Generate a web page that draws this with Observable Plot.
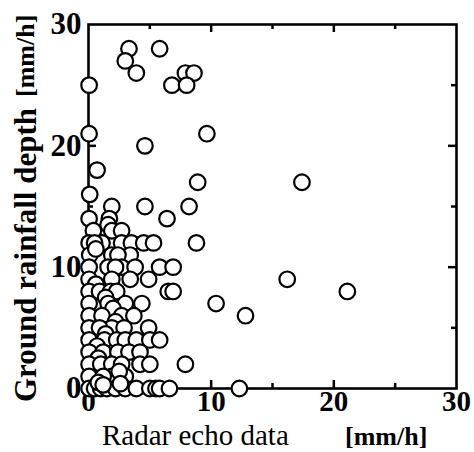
<!DOCTYPE html>
<html>
<head>
<meta charset="utf-8">
<script src="https://cdn.jsdelivr.net/npm/d3@7"></script>
<script src="https://cdn.jsdelivr.net/npm/@observablehq/plot@0.6"></script>
<style>
  html, body { margin: 0; padding: 0; background: #fff; }
  #chart { width: 474px; height: 452px; }
</style>
</head>
<body>
<div id="chart"></div>
<script>
// Radar echo data [mm/h] (x) vs ground rainfall depth [mm/h] (y)
const radarEcho = [
  3.3, 5.8, 3.0, 3.9, 0.05, 6.8, 7.9, 8.6, 8.0,
  0.05, 9.65, 4.6, 0.7, 8.9, 17.4, 0.1,
  1.9, 4.6, 8.2, 6.4, 0.05, 1.7, 1.6,
  0.4, 1.9, 2.7,
  0.05, 1.1, 2.7, 3.5, 4.5, 5.3, 8.8, 0.5,
  0.1, 1.9, 3.4, 0.6, 2.4,
  0.05, 1.6, 2.7, 3.8, 5.8, 6.9, 2.2,
  0.05, 1.9, 4.9, 16.2, 0.6, 3.4,
  0.05, 0.9, 1.8, 2.3, 6.5, 6.9, 21.1, 1.4,
  0.05, 3.0, 4.35, 10.4, 1.6, 2.0,
  0.05, 1.1, 2.7, 3.7, 12.8, 2.2,
  0.05, 1.9, 2.9, 4.9, 0.9, 1.4,
  0.05, 1.3, 2.3, 3.0, 3.9, 5.0, 5.8, 0.7,
  0.05, 1.2, 2.4, 3.3, 4.2, 0.8,
  0.05, 1.0, 1.9, 4.2, 5.0, 7.9, 2.7,
  0.05, 1.9, 3.0, 1.2, 2.5,
  0.05, 0.5, 1.0, 1.5, 2.2, 3.0, 3.9, 5.0, 5.5, 5.8, 6.6, 12.3, 0.8, 1.2, 2.6
];
const groundRain = [
  28, 28, 27, 26, 25, 25, 26, 26, 25,
  21, 21, 20, 18, 17, 17, 16,
  15, 15, 15, 14, 14, 14, 13.5,
  13, 13, 13,
  12, 12, 12, 12, 12, 12, 12, 12,
  11, 11, 11, 11.5, 11,
  10, 10, 10, 10, 10, 10, 10,
  9, 9, 9, 9, 8.6, 9,
  8, 8, 8, 8, 8, 8, 8, 7.5,
  7, 7, 7, 7, 7, 6.6,
  6, 6, 6, 6, 6, 5.5,
  5, 5, 5, 5, 5, 4.5,
  4, 4, 4, 4, 4, 4, 4, 3.5,
  3, 3, 3, 3, 3, 2.5,
  2, 2, 2, 2, 2, 2, 2,
  1, 1, 1, 1, 1.4,
  0, 0, 0, 0, 0, 0, 0, 0, 0, 0, 0, 0, 0.5, 0.3, 0.4
];
const majorTicks = [0, 10, 20, 30];
const innerMajor = [10, 20];
const innerMinor = [5, 15, 25];

const points = radarEcho.map((x, i) => ({x, y: groundRain[i]}));

const W = 474, H = 452, ML = 88, MR = 18, MT = 24, MB = 64;
const PW = W - ML - MR, PH = H - MT - MB;
const majorLen = 8, minorLen = 5;

const serif = "'Liberation Serif', 'Times New Roman', serif";
const tickFontX = {fontSize: 29, fontWeight: "bold", fontFamily: serif, fill: "#000"};
const tickFontY = {fontSize: 31, fontWeight: "bold", fontFamily: serif, fill: "#000"};
const tickStyle = {stroke: "#000", strokeWidth: 2.5};

const chart = Plot.plot({
  width: W,
  height: H,
  marginLeft: ML,
  marginRight: MR,
  marginTop: MT,
  marginBottom: MB,
  x: {domain: [0, 30]},
  y: {domain: [0, 30]},
  style: {background: "#fff", color: "#000"},
  marks: [
    Plot.axisX({anchor: "bottom", ticks: majorTicks, tickSize: 0, tickPadding: 2, label: null, ...tickFontX}),
    Plot.axisY({anchor: "left", ticks: majorTicks, tickSize: 0, tickPadding: 7, label: null, ...tickFontY}),
    // inward ticks, bottom & top
    Plot.ruleX(innerMajor, {x: d => d, insetTop: PH - majorLen, ...tickStyle}),
    Plot.ruleX(innerMinor, {x: d => d, insetTop: PH - minorLen, ...tickStyle}),
    Plot.ruleX(innerMajor, {x: d => d, insetBottom: PH - majorLen, ...tickStyle}),
    Plot.ruleX(innerMinor, {x: d => d, insetBottom: PH - minorLen, ...tickStyle}),
    // inward ticks, left & right
    Plot.ruleY(innerMajor, {y: d => d, insetRight: PW - majorLen, ...tickStyle}),
    Plot.ruleY(innerMinor, {y: d => d, insetRight: PW - minorLen, ...tickStyle}),
    Plot.ruleY(innerMajor, {y: d => d, insetLeft: PW - majorLen, ...tickStyle}),
    Plot.ruleY(innerMinor, {y: d => d, insetLeft: PW - minorLen, ...tickStyle}),
    Plot.frame({stroke: "#000", strokeWidth: 2.6}),
    Plot.dot(points, {x: "x", y: "y", r: 7.8, fill: "#fff", stroke: "#000", strokeWidth: 2.2, clip: false})
  ]
});

const svg = d3.select(chart);
// x-axis title
svg.append("text")
  .attr("x", 102).attr("y", 445)
  .attr("text-anchor", "start")
  .attr("font-family", serif).attr("font-size", 29).attr("fill", "#000")
  .text("Radar echo data");
svg.append("text")
  .attr("x", 345).attr("y", 445)
  .attr("text-anchor", "start")
  .attr("font-family", serif).attr("font-weight", "bold").attr("font-size", 26).attr("fill", "#000")
  .text("[mm/h]");
// y-axis title (rotated)
svg.append("text")
  .attr("transform", "translate(36,402) rotate(-90)")
  .attr("text-anchor", "start")
  .attr("font-family", serif).attr("font-weight", "bold").attr("font-size", 31).attr("fill", "#000")
  .text("Ground rainfall depth");
svg.append("text")
  .attr("transform", "translate(34,97) rotate(-90)")
  .attr("text-anchor", "start")
  .attr("font-family", serif).attr("font-weight", "bold").attr("font-size", 26).attr("fill", "#000")
  .text("[mm/h]");

document.getElementById("chart").appendChild(chart);
</script>
</body>
</html>
